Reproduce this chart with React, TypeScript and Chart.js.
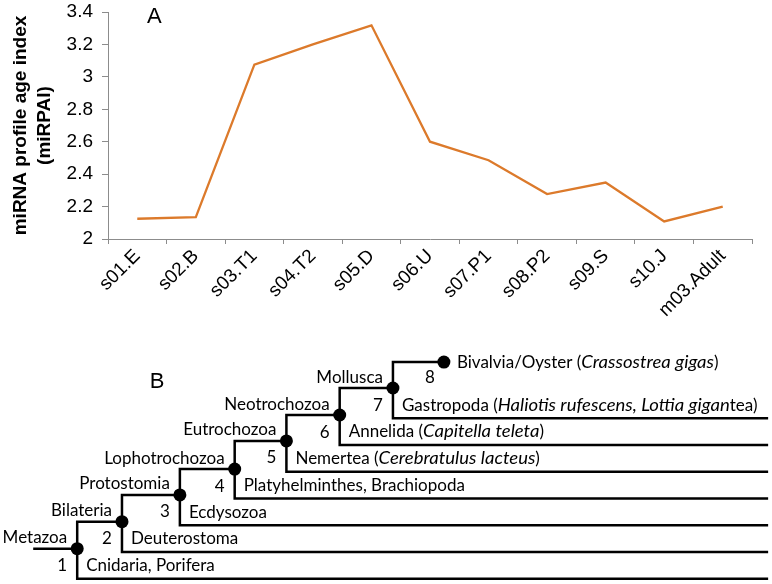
import React, { useEffect, useRef } from 'react';
import { Chart, registerables } from 'chart.js';

Chart.register(...registerables);

// ---------- Panel A data ----------
const stages = ['s01.E', 's02.B', 's03.T1', 's04.T2', 's05.D', 's06.U', 's07.P1', 's08.P2', 's09.S', 's10.J', 'm03.Adult'];
const miRPAI = [2.125, 2.135, 3.075, 3.2, 3.318, 2.6, 2.486, 2.277, 2.348, 2.108, 2.2];
const yTicks = [2, 2.2, 2.4, 2.6, 2.8, 3, 3.2, 3.4];
const yTitle = ['miRNA profile age index', '(miRPAI)'];

// ---------- Panel B data (tree) ----------
const cladeNames = ['Metazoa', 'Bilateria', 'Protostomia', 'Lophotrochozoa', 'Eutrochozoa', 'Neotrochozoa', 'Mollusca'];
const nodeNumbers = ['1', '2', '3', '4', '5', '6', '7'];
const cladeDepth = [10, 15.8, 23.3, 30.4, 37.1, 44, 50.9];
const cladeHeight = [1.12, 2.13, 3.13, 4.1, 5.15, 6.12, 7.13];
const sisterHeight = [0, 1, 2, 3, 4, 5, 6];
const sisterLabels: [string, boolean][][] = [
  [['Cnidaria, Porifera', false]],
  [['Deuterostoma', false]],
  [['Ecdysozoa', false]],
  [['Platyhelminthes, Brachiopoda', false]],
  [['Nemertea (', false], ['Cerebratulus lacteus', true], [')', false]],
  [['Annelida (', false], ['Capitella teleta', true], [')', false]],
  [['Gastropoda (', false], ['Haliotis rufescens, Lottia gigan', true], ['tea)', false]],
];
const leafLabel: [string, boolean][] = [['Bivalvia/Oyster (', false], ['Crassostrea gigas', true], [')', false]];
const leafNumber = '8';
const leafDepth = 57.5;
const leafHeight = 8.1;
const rootDepth = 4.3;
const tipDepth = 99.5;

const ARIAL = '"Liberation Sans", Arial, sans-serif';
const TREEFONT = 'Lato, "Open Sans", sans-serif';
const AXIS_GRAY = '#8c8c8c';
const LINE_ORANGE = '#DC7A2B';
const ITALIC_STRETCH = 1.09;

function PanelA() {
  const ref = useRef<HTMLCanvasElement>(null);
  useEffect(() => {
    if (!ref.current) return;
    const letterPlugin = {
      id: 'letterA',
      afterDraw(chart: any) {
        const { ctx, chartArea } = chart;
        ctx.save();
        ctx.fillStyle = '#000';
        ctx.font = `22px ${ARIAL}`;
        ctx.textAlign = 'left';
        ctx.textBaseline = 'middle';
        ctx.fillText('A', chartArea.left + 39, chartArea.top + 5);
        ctx.restore();
      },
    };
    const chart = new Chart(ref.current, {
      type: 'line',
      data: {
        labels: stages,
        datasets: [
          {
            data: miRPAI,
            borderColor: LINE_ORANGE,
            backgroundColor: LINE_ORANGE,
            borderWidth: 2.3,
            pointRadius: 0,
            pointHoverRadius: 0,
            tension: 0,
            fill: false,
          },
        ],
      },
      options: {
        responsive: false,
        animation: false,
        layout: { autoPadding: false, padding: { top: 12, right: 20, left: 0, bottom: 0 } },
        plugins: { legend: { display: false }, tooltip: { enabled: false } },
        scales: {
          x: {
            type: 'category',
            offset: true,
            grid: { offset: true, drawOnChartArea: false, drawTicks: true, tickLength: 5, color: AXIS_GRAY },
            border: { display: true, color: AXIS_GRAY, width: 1 },
            ticks: {
              color: '#000',
              font: { family: ARIAL, size: 19 },
              minRotation: 45,
              maxRotation: 45,
              padding: 1,
              autoSkip: false,
            },
            afterFit(scale: any) {
              scale.height = 91;
              scale.paddingLeft = 0;
              scale.paddingRight = 0;
            },
          },
          y: {
            type: 'linear',
            min: 2,
            max: 3.4,
            afterBuildTicks(scale: any) {
              scale.ticks = yTicks.map((v) => ({ value: v }));
            },
            grid: { drawOnChartArea: false, drawTicks: true, tickLength: 6, color: AXIS_GRAY },
            border: { display: true, color: AXIS_GRAY, width: 1 },
            ticks: {
              color: '#000',
              font: { family: ARIAL, size: 19 },
              padding: 9,
              callback: (v: any) => String(Number(Number(v).toFixed(1))),
            },
            title: {
              display: true,
              text: yTitle,
              color: '#000',
              font: { family: ARIAL, size: 19, weight: 'bold', lineHeight: 1.3 },
              padding: { top: 8, bottom: 0 },
            },
            afterFit(scale: any) {
              scale.width = 108;
              scale.paddingTop = 0;
              scale.paddingBottom = 0;
            },
          },
        },
      },
      plugins: [letterPlugin],
    } as any);
    return () => chart.destroy();
  }, []);
  return <canvas ref={ref} width={772} height={330} style={{ display: 'block', width: 772, height: 330 }} />;
}

function PanelB() {
  const ref = useRef<HTMLCanvasElement>(null);
  useEffect(() => {
    if (!ref.current) return;
    const lineStyle = {
      showLine: true,
      borderColor: '#000',
      borderWidth: 2.5,
      pointRadius: 0,
      pointHoverRadius: 0,
      fill: false,
      tension: 0,
      borderJoinStyle: 'miter',
      borderCapStyle: 'butt',
    };
    const datasets: any[] = [];
    datasets.push({
      ...lineStyle,
      data: [
        { x: rootDepth, y: cladeHeight[0] },
        { x: cladeDepth[0], y: cladeHeight[0] },
      ],
    });
    cladeDepth.forEach((d, i) => {
      const last = i === cladeDepth.length - 1;
      const topX = last ? leafDepth : cladeDepth[i + 1];
      const topY = last ? leafHeight : cladeHeight[i + 1];
      datasets.push({
        ...lineStyle,
        data: [
          { x: tipDepth, y: sisterHeight[i] },
          { x: d, y: sisterHeight[i] },
          { x: d, y: topY },
          { x: topX, y: topY },
        ],
      });
    });
    datasets.push({
      showLine: false,
      pointRadius: 6.5,
      pointHoverRadius: 6.5,
      pointBackgroundColor: '#000',
      pointBorderWidth: 0,
      data: [...cladeDepth.map((d, i) => ({ x: d, y: cladeHeight[i] })), { x: leafDepth, y: leafHeight }],
    });

    const drawSegments = (ctx: CanvasRenderingContext2D, segs: [string, boolean][], x: number, y: number) => {
      let cx = x;
      segs.forEach(([t, it]) => {
        ctx.font = `${it ? 'italic ' : ''}17px ${TREEFONT}`;
        const w = ctx.measureText(t).width;
        if (it) {
          ctx.save();
          ctx.translate(cx, y);
          ctx.scale(ITALIC_STRETCH, 1);
          ctx.fillText(t, 0, 0);
          ctx.restore();
          cx += w * ITALIC_STRETCH;
        } else {
          ctx.fillText(t, cx, y);
          cx += w;
        }
      });
    };

    const labelPlugin = {
      id: 'treeLabels',
      afterDatasetsDraw(chart: any) {
        const { ctx } = chart;
        const xs = chart.scales.x;
        const ys = chart.scales.y;
        ctx.save();
        ctx.fillStyle = '#000';
        ctx.textBaseline = 'middle';
        ctx.font = `17px ${TREEFONT}`;
        cladeNames.forEach((name, i) => {
          const nx = xs.getPixelForValue(cladeDepth[i]);
          const ny = ys.getPixelForValue(cladeHeight[i]);
          ctx.textAlign = 'right';
          ctx.font = `17px ${TREEFONT}`;
          ctx.fillText(name, nx - 10, ny - 11);
          ctx.textAlign = 'center';
          ctx.fillText(nodeNumbers[i], nx - 15, ny + 17);
          const sy = ys.getPixelForValue(sisterHeight[i]);
          ctx.textAlign = 'left';
          drawSegments(ctx, sisterLabels[i], nx + 9, sy - 13);
        });
        const lx = xs.getPixelForValue(leafDepth);
        const ly = ys.getPixelForValue(leafHeight);
        ctx.textAlign = 'center';
        ctx.font = `17px ${TREEFONT}`;
        ctx.fillText(leafNumber, lx - 14, ly + 15);
        ctx.textAlign = 'left';
        drawSegments(ctx, leafLabel, lx + 13, ly);
        // panel letter
        ctx.font = `22px ${ARIAL}`;
        ctx.textAlign = 'left';
        ctx.fillText('B', xs.getPixelForValue(19.4), ys.getPixelForValue(7.35));
        ctx.restore();
      },
    };

    const chart = new Chart(ref.current, {
      type: 'scatter',
      data: { datasets },
      options: {
        responsive: false,
        animation: false,
        layout: { autoPadding: false, padding: 0 },
        plugins: { legend: { display: false }, tooltip: { enabled: false } },
        scales: {
          x: { type: 'linear', display: false, min: 0, max: 100 },
          y: { type: 'linear', display: false, min: -0.2, max: 9.3 },
        },
      },
      plugins: [labelPlugin],
    } as any);
    return () => chart.destroy();
  }, []);
  return <canvas ref={ref} width={772} height={254} style={{ display: 'block', width: 772, height: 254 }} />;
}

export default function App() {
  return (
    <div style={{ position: 'absolute', left: 0, top: 0, width: 772, height: 584, background: '#fff' }}>
      <PanelA />
      <PanelB />
    </div>
  );
}
